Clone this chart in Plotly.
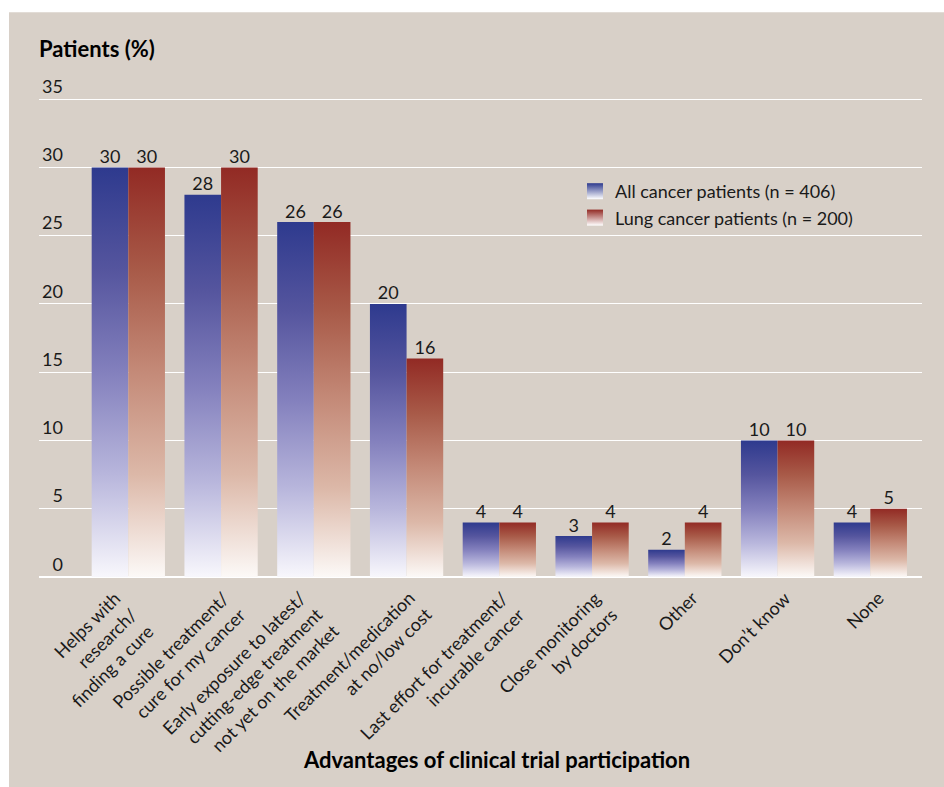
import plotly.graph_objects as go

# Survey answers: advantages of clinical trial participation
categories = [
    "Helps with<br>research/<br>finding a cure",
    "Possible treatment/<br>cure for my cancer",
    "Early exposure to latest/<br>cutting-edge treatment<br>not yet on the market",
    "Treatment/medication<br>at no/low cost",
    "Last effort for treatment/<br>incurable cancer",
    "Close monitoring<br>by doctors",
    "Other",
    "Don’t know",
    "None",
]
all_patients = [30, 28, 26, 20, 4, 3, 2, 10, 4]
lung_patients = [30, 30, 26, 16, 4, 4, 4, 10, 5]
series_names = ["All cancer patients (n = 406)", "Lung cancer patients (n = 200)"]
y_ticks = [0, 5, 10, 15, 20, 25, 30, 35]

FONT = "Lato"
BG = "#d8d0c8"
TEXT = "#1a1a1a"
BAR_HALF = 0.395
Y_TOP = 37.5
PX_PER_UNIT = 13.67
ZERO_PX = 577.5
TOP_PX = ZERO_PX - Y_TOP * PX_PER_UNIT
PLOT_H = ZERO_PX - TOP_PX

blue_scale = [[0.0, "#f8f7fc"], [0.25, "#b8b6dc"], [0.5, "#8380bd"],
              [0.75, "#55559e"], [1.0, "#2e3a8e"]]
red_scale = [[0.0, "#fcf9f7"], [0.25, "#dcb8a8"], [0.5, "#c48a78"],
             [0.75, "#a85a48"], [1.0, "#922a24"]]

fig = go.Figure()

# Each bar is a filled rectangle so it can carry its own vertical gradient
for values, scale, side in [(all_patients, blue_scale, -1), (lung_patients, red_scale, 0)]:
    for i, v in enumerate(values):
        x0 = i + side * BAR_HALF
        x1 = x0 + BAR_HALF
        fig.add_trace(go.Scatter(
            x=[x0, x0, x1, x1, x0], y=[0, v, v, 0, 0],
            mode="none", fill="toself",
            fillgradient=dict(type="vertical", colorscale=scale),
            showlegend=False, hoverinfo="skip",
        ))
    # value labels above the bars
    fig.add_trace(go.Scatter(
        x=[i + side * BAR_HALF + BAR_HALF / 2 for i in range(len(values))],
        y=values, mode="text", text=[str(v) for v in values],
        textposition="top center",
        textfont=dict(family=FONT, size=18, color=TEXT),
        showlegend=False, hoverinfo="skip", cliponaxis=False,
    ))

# Legend swatches
for name, top, group in [(series_names[0], "#2e3a8e", "a"), (series_names[1], "#922a24", "b")]:
    fig.add_trace(go.Scatter(
        x=[None], y=[None], mode="markers", name=name, legendgroup=group,
        marker=dict(symbol="square", size=20, color=top,
                    gradient=dict(type="vertical", color="#ffffff"),
                    line=dict(width=0)),
    ))

# Rotated, right-aligned category labels under each pair of bars
annotations = []
for i, label in enumerate(categories):
    multi = "<br>" in label
    annotations.append(dict(
        x=i, y=0, xref="x", yref="y", text=label, showarrow=False,
        textangle=-45, xanchor="right", yanchor="top", align="right",
        xshift=32 if multi else 20, yshift=-7,
        font=dict(family=FONT, size=18, color=TEXT),
    ))

annotations.append(dict(
    x=(496.5 - 39) / 883, y=-(760 - ZERO_PX) / PLOT_H, xref="paper", yref="paper",
    text="<b>Advantages of clinical trial participation</b>", showarrow=False,
    xanchor="center", yanchor="middle",
    font=dict(family=FONT, size=22, color="#000000"),
))

fig.update_layout(
    width=944, height=787,
    margin=dict(l=39, r=22, t=TOP_PX, b=787 - ZERO_PX, autoexpand=False),
    paper_bgcolor="#ffffff", plot_bgcolor="rgba(0,0,0,0)",
    font=dict(family=FONT, color=TEXT),
    title=dict(text="<b>Patients (%)</b>", x=39 / 944, xanchor="left",
               y=1 - 49 / 787, yanchor="middle",
               font=dict(family=FONT, size=22, color="#000000")),
    showlegend=True,
    legend=dict(x=(575 - 39) / 883, y=1 - (173 - TOP_PX) / PLOT_H,
                xanchor="left", yanchor="top", bgcolor="rgba(0,0,0,0)",
                traceorder="grouped", tracegroupgap=0,
                font=dict(family=FONT, size=18, color=TEXT)),
    xaxis=dict(range=[-0.963, 8.557], showgrid=False, zeroline=False,
               showticklabels=False, showline=False, fixedrange=True),
    yaxis=dict(range=[0, Y_TOP], tickvals=y_ticks,
               ticktext=[("\u2007" + str(t)) if t < 10 else str(t) for t in y_ticks],
               showgrid=True, gridcolor="#ffffff", gridwidth=1.4,
               zeroline=True, zerolinecolor="#ffffff", zerolinewidth=2.2,
               ticklabelposition="inside top", ticks="",
               tickfont=dict(family=FONT, size=18, color=TEXT),
               showline=False, fixedrange=True),
    annotations=annotations,
    shapes=[dict(type="rect", xref="paper", yref="paper", layer="below",
                 x0=(9 - 39) / 883, x1=(950 - 39) / 883,
                 y0=-(800 - ZERO_PX) / PLOT_H, y1=1 + (TOP_PX - 12) / PLOT_H,
                 fillcolor=BG, line=dict(width=0))],
)

fig.write_html("out.html")
